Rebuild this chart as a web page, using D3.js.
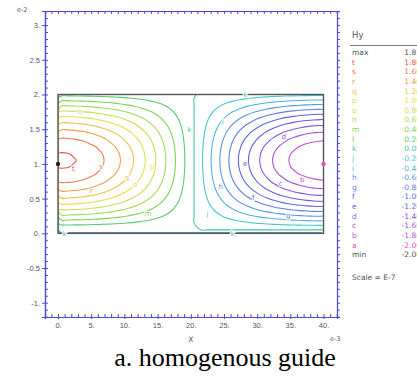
<!DOCTYPE html>
<html>
<head>
<meta charset="utf-8">
<script src="https://cdn.jsdelivr.net/npm/d3@7"></script>
<style>
body { margin: 0; background: #fff; }
svg { display: block; font-family: "DejaVu Sans", sans-serif; }
</style>
</head>
<body>
<div id="chart"></div>
<script>
// Hy (y = 1e-2), x = 0..40 (e-3), one sample per unit
const xProfile = [1.830, 1.824, 1.807, 1.779, 1.740, 1.691, 1.631, 1.560, 1.480, 1.392,
                  1.294, 1.188, 1.076, 0.956, 0.831, 0.700, 0.566, 0.427, 0.286, 0.144,
                  0.000, -0.157, -0.313, -0.467, -0.618, -0.765, -0.908, -1.045, -1.176, -1.299,
                  -1.414, -1.521, -1.618, -1.705, -1.782, -1.848, -1.902, -1.945, -1.975, -1.994,
                  -2.000];
// relative shape across the guide height, y = 0..2 (e-2), step 0.1
const yProfile = [0.000, 0.156, 0.309, 0.454, 0.588, 0.707, 0.809, 0.891, 0.951, 0.988,
                  1.000, 0.988, 0.951, 0.891, 0.809, 0.707, 0.588, 0.454, 0.309, 0.156,
                  0.000];

const levelNames  = ["t", "s", "r", "q", "p", "o", "n", "m", "l", "k",
                     "j", "i", "h", "g", "f", "e", "d", "c", "b", "a"];
const levelValues = [1.8, 1.6, 1.4, 1.2, 1.0, 0.8, 0.6, 0.4, 0.2, 0.0,
                     -0.2, -0.4, -0.6, -0.8, -1.0, -1.2, -1.4, -1.6, -1.8, -2.0];
const levelColors = ["#ec5548", "#f07a48", "#f3a048", "#efc44c", "#e6de50", "#c8e052", "#a6da56", "#7cd45a", "#58cc72", "#46c8a0",
                     "#48c8cc", "#52b2e2", "#5a98e6", "#5a7ee6", "#5c68e0", "#6a5ae0", "#8656de", "#a252dc", "#c052d6", "#e050c8"];
const maxLabel = "1.83";
const minLabel = "-2.00";

const xTicks = [0, 5, 10, 15, 20, 25, 30, 35, 40];
const yTicks = [-1, -0.5, 0, 0.5, 1, 1.5, 2, 2.5, 3];

// letters written on the contour lines (data units)
const contourLabels = [
  { name: "n", x: 3.3, y: 1.76 }, { name: "t", x: 2.3, y: 0.93 }, { name: "s", x: 6.5, y: 0.96 },
  { name: "r", x: 5.0, y: 0.61 }, { name: "q", x: 10.4, y: 0.81 }, { name: "p", x: 14.2, y: 0.96 },
  { name: "o", x: 11.6, y: 0.70 }, { name: "m", x: 13.6, y: 0.29 }, { name: "k", x: 19.8, y: 1.49 },
  { name: "k", x: 1.0, y: 0.0 }, { name: "k", x: 28.2, y: 2.0 }, { name: "k", x: 26.3, y: 0.0 },
  { name: "j", x: 24.8, y: 1.62 }, { name: "d", x: 34.0, y: 1.39 }, { name: "e", x: 28.2, y: 1.01 },
  { name: "b", x: 36.8, y: 0.77 }, { name: "c", x: 33.5, y: 0.72 }, { name: "f", x: 29.4, y: 0.52 },
  { name: "h", x: 24.5, y: 0.68 }, { name: "g", x: 34.7, y: 0.26 }, { name: "j", x: 22.5, y: 0.29 }
];

const W = 417, H = 378;
const nx = xProfile.length, ny = yProfile.length;
const dxStep = 40 / (nx - 1), dyStep = 2 / (ny - 1);

const svg = d3.select("#chart").append("svg")
  .attr("width", W).attr("height", H);

svg.append("rect").attr("width", W).attr("height", H).attr("fill", "#fff");

const x = d3.scaleLinear().domain([-1.96, 42.03]).range([45, 337]);
const y = d3.scaleLinear().domain([-1.206, 3.203]).range([317, 11]);

const axisColor = "#4a4ad8";
const tickText = "#555";
const fmt = d => Number.isInteger(d) ? d + "." : String(d);

function styleAxis(g) {
  g.select(".domain").attr("stroke", axisColor).attr("stroke-width", 1.2);
  g.selectAll(".tick line").attr("stroke", axisColor);
  g.selectAll(".tick text").attr("fill", tickText).style("font-size", "7.5px");
}

// minor ticks (inward)
svg.append("g").attr("transform", `translate(45,0)`)
  .call(d3.axisRight(y).tickValues(d3.range(-12, 33).map(v => v / 10)).tickSize(3).tickFormat(""))
  .call(styleAxis);
svg.append("g").attr("transform", `translate(0,11)`)
  .call(d3.axisBottom(x).tickValues(d3.range(-1, 43)).tickSize(3).tickFormat(""))
  .call(styleAxis);
svg.append("g").attr("transform", `translate(0,317)`)
  .call(d3.axisTop(x).tickValues(d3.range(-1, 43)).tickSize(3).tickFormat(""))
  .call(styleAxis);
svg.append("g").attr("transform", `translate(337,0)`)
  .call(d3.axisRight(y).tickValues(d3.range(-12, 33).map(v => v / 10)).tickSize(3).tickFormat(""))
  .call(styleAxis);

// major ticks with labels
svg.append("g").attr("transform", `translate(45,0)`)
  .call(d3.axisLeft(y).tickValues(yTicks).tickSize(3).tickPadding(2).tickFormat(fmt))
  .call(styleAxis);
svg.append("g").attr("transform", `translate(0,317)`)
  .call(d3.axisBottom(x).tickValues(xTicks).tickSize(2).tickPadding(4).tickFormat(fmt))
  .call(styleAxis);

svg.append("text").attr("x", 17).attr("y", 12).attr("fill", tickText)
  .style("font-size", "6.5px").text("e-2");
svg.append("text").attr("x", x(20)).attr("y", 342).attr("text-anchor", "middle")
  .attr("fill", tickText).style("font-size", "7.5px").text("X");
svg.append("text").attr("x", 330).attr("y", 341).attr("fill", tickText)
  .style("font-size", "6.5px").text("e-3");

// field grid
const grid = new Array(nx * ny);
for (let j = 0; j < ny; j++)
  for (let i = 0; i < nx; i++)
    grid[j * nx + i] = xProfile[i] * yProfile[j];

const contours = d3.contours().size([nx, ny]).thresholds(levelValues)(grid);

svg.append("clipPath").attr("id", "box")
  .append("rect")
  .attr("x", x(0)).attr("y", y(2))
  .attr("width", x(40) - x(0)).attr("height", y(0) - y(2));

// contour space: sample i sits at coordinate i
const ring = d3.line()
  .x(p => x(p[0] * dxStep))
  .y(p => y(p[1] * dyStep))
  .curve(d3.curveCatmullRomClosed.alpha(0.5));

const cg = svg.append("g").attr("clip-path", "url(#box)");
contours.forEach(c => {
  const k = levelValues.indexOf(c.value);
  const d = c.coordinates.map(poly => poly.map(r => ring(r.slice(0, -1))).join("")).join("");
  cg.append("path")
    .attr("d", d)
    .attr("fill", "none")
    .attr("stroke", levelColors[k])
    .attr("stroke-width", 1.1);
});

// guide outline
svg.append("rect")
  .attr("x", x(0)).attr("y", y(2))
  .attr("width", x(40) - x(0)).attr("height", y(0) - y(2))
  .attr("fill", "none").attr("stroke", "#555").attr("stroke-width", 1.4);

// labels on contours
svg.append("g").selectAll("text")
  .data(contourLabels)
  .join("text")
  .attr("x", d => x(d.x)).attr("y", d => y(d.y))
  .attr("dy", "0.35em")
  .attr("text-anchor", "middle")
  .attr("fill", d => levelColors[levelNames.indexOf(d.name)])
  .attr("stroke", "#fff").attr("stroke-width", 2).attr("paint-order", "stroke")
  .style("font-size", "7px")
  .text(d => d.name);

// extrema markers
const iMax = d3.maxIndex(grid), iMin = d3.minIndex(grid);
[[iMax, "#222"], [iMin, levelColors[levelColors.length - 1]]].forEach(([idx, col]) => {
  const gx = (idx % nx) * dxStep, gy = Math.floor(idx / nx) * dyStep;
  svg.append("circle").attr("cx", x(gx)).attr("cy", y(gy)).attr("r", 2.2).attr("fill", col);
});

// legend
const lg = svg.append("g");
lg.append("text").attr("x", 352).attr("y", 38).attr("fill", "#555")
  .style("font-size", "8.5px").text("Hy");
lg.append("line").attr("x1", 350).attr("x2", 417).attr("y1", 45.5).attr("y2", 45.5)
  .attr("stroke", "#777").attr("stroke-width", 1);

const rows = [{ name: "max", val: maxLabel, color: "#555" }]
  .concat(levelNames.map((n, i) => ({ name: n, val: levelValues[i].toFixed(2), color: levelColors[i] })))
  .concat([{ name: "min", val: minLabel, color: "#555" }]);
const rowY = d3.scaleLinear().domain([0, rows.length - 1]).range([52.5, 254.5]);

const rg = lg.selectAll("g.row").data(rows).join("g")
  .attr("transform", (d, i) => `translate(0,${rowY(i)})`);
rg.append("text").attr("x", 352).attr("dy", "0.35em").attr("fill", d => d.color)
  .style("font-size", "7.5px").text(d => d.name);
rg.append("text").attr("x", 417).attr("dx", 4).attr("dy", "0.35em").attr("text-anchor", "end")
  .attr("fill", d => d.color).style("font-size", "7.5px").text(d => d.val);

lg.append("text").attr("x", 352).attr("y", 280).attr("fill", "#555")
  .style("font-size", "7.5px").text("Scale = E-7");

// caption
svg.append("text").attr("x", 225).attr("y", 366).attr("text-anchor", "middle")
  .style("font-family", "'Liberation Serif', serif").style("font-size", "26px")
  .attr("fill", "#000").text("a. homogenous guide");
</script>
</body>
</html>
